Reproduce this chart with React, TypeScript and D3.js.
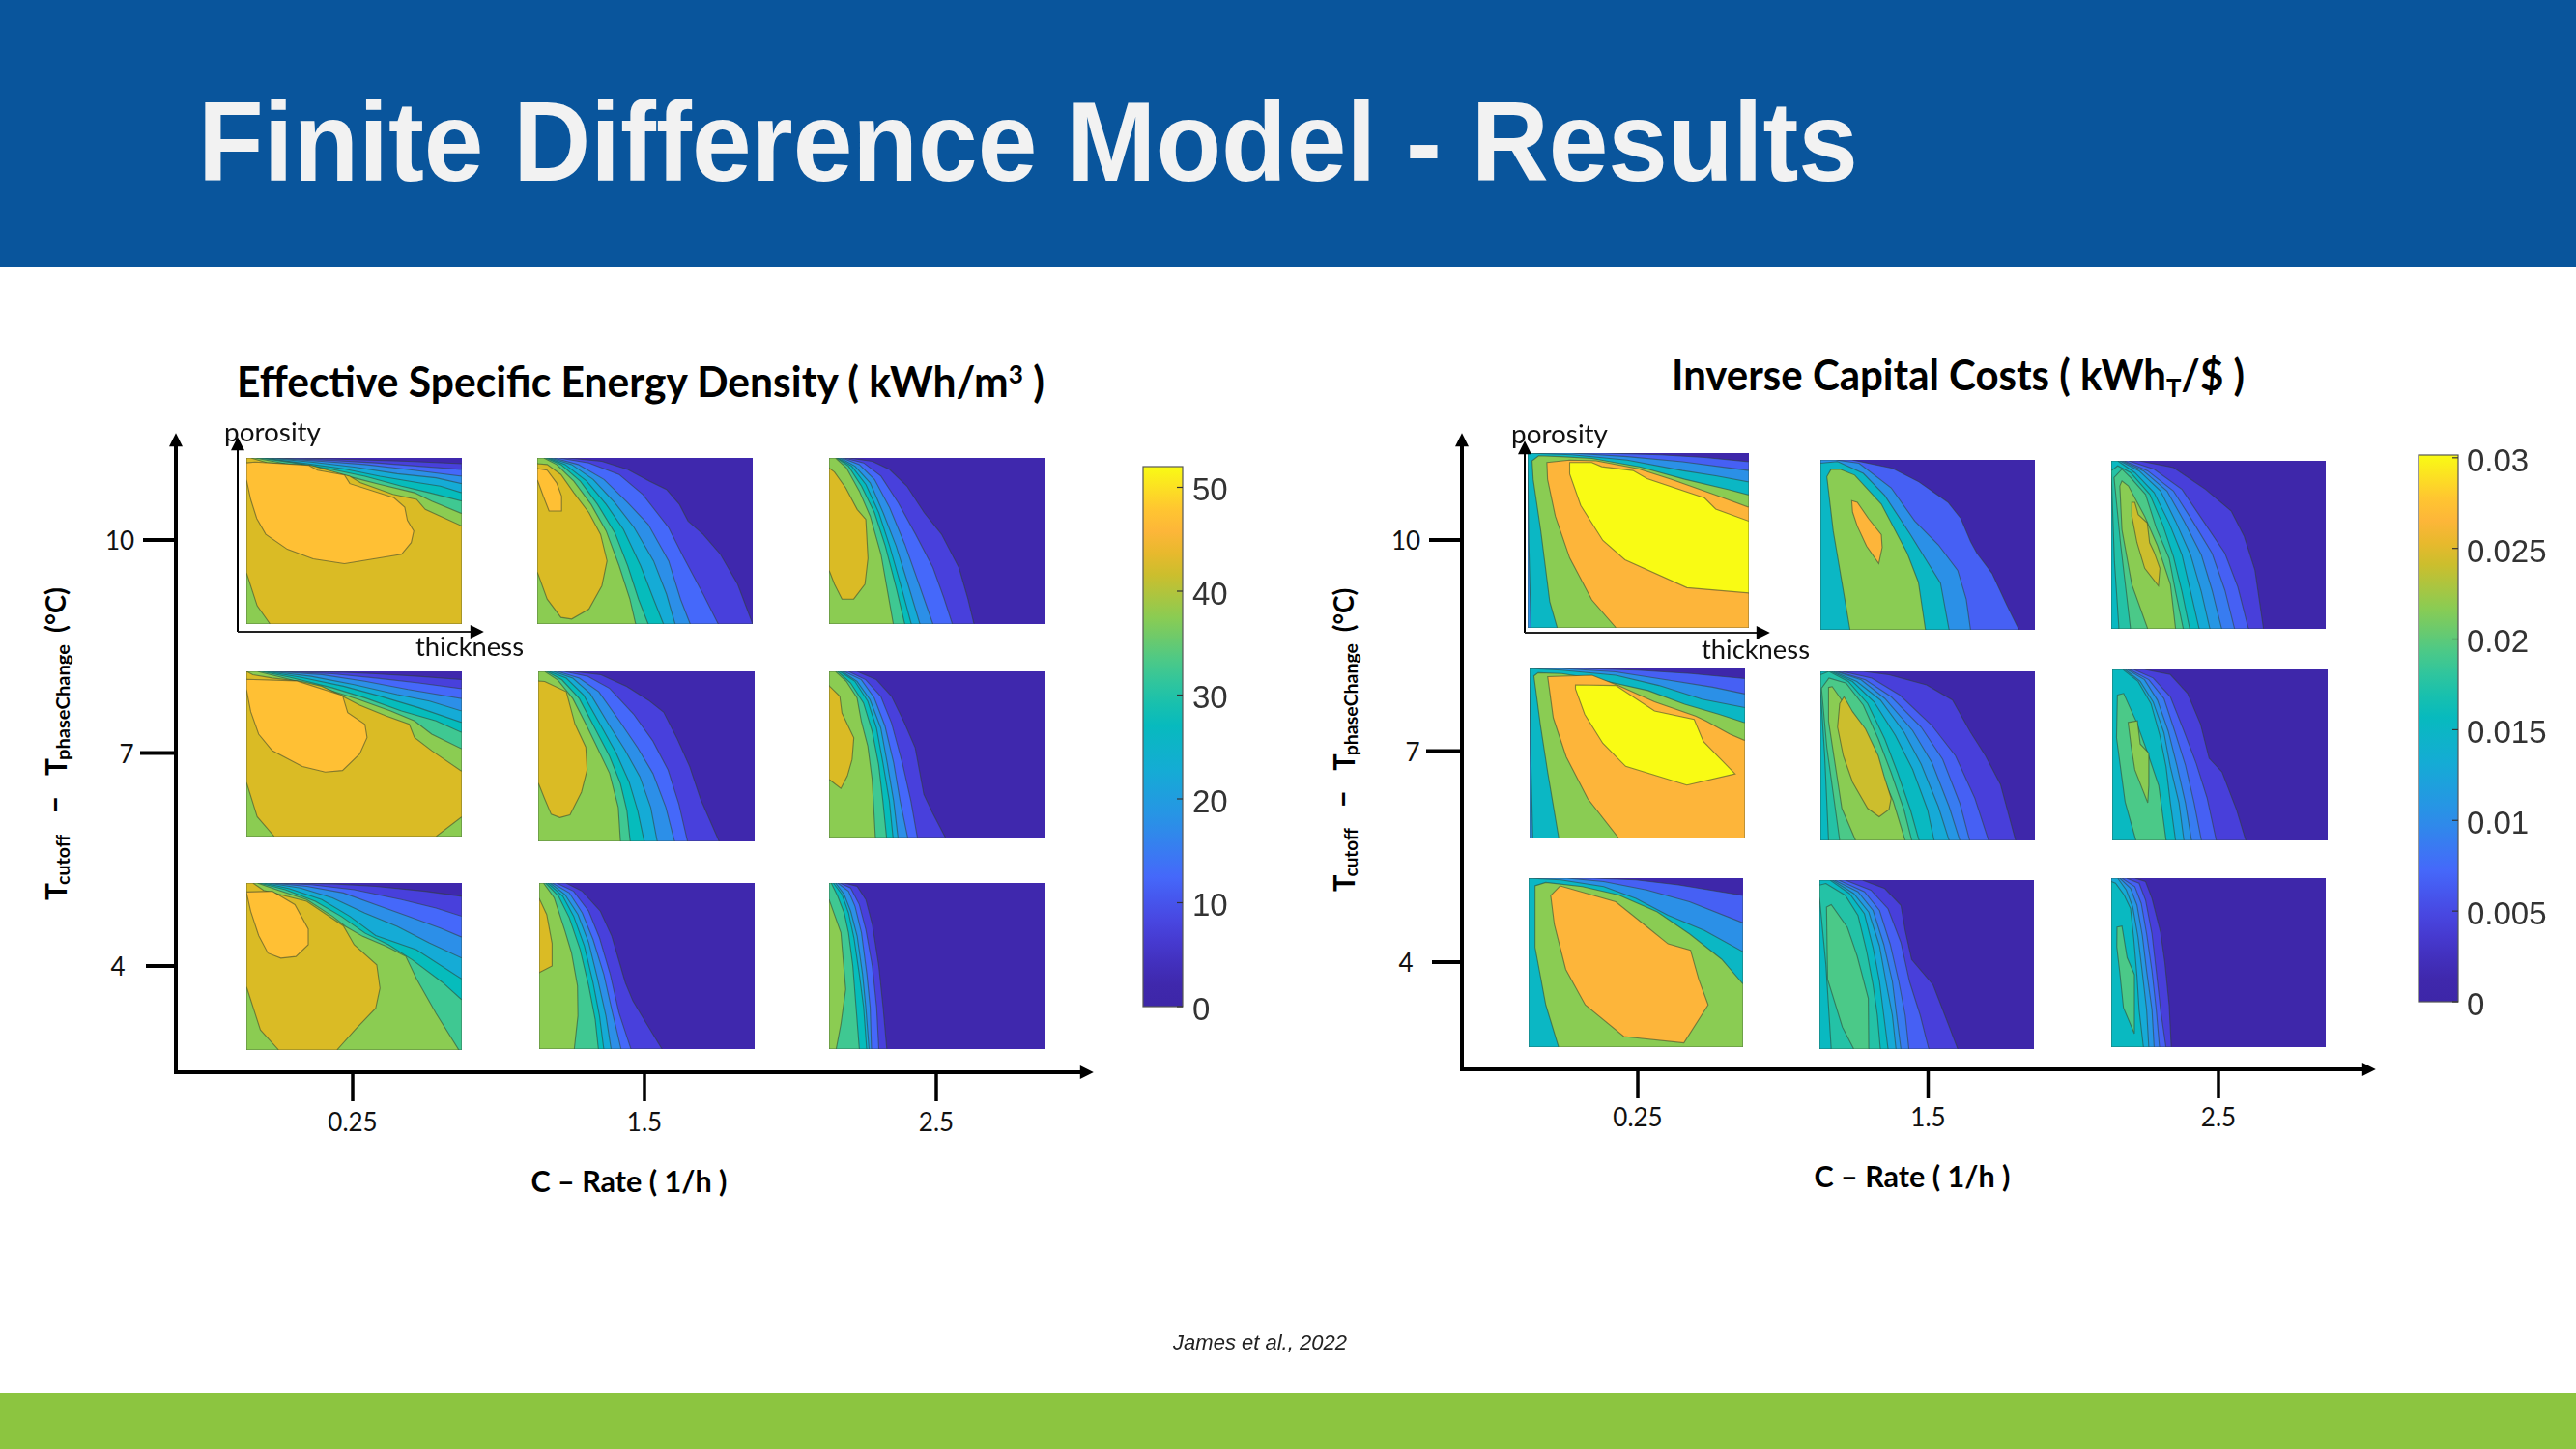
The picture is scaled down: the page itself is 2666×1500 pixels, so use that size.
import React from 'react';
import * as d3 from 'd3';

type P = [number, number];
type Band = [number, P[]];

// ---------- axis values ----------
const cRates = ['0.25', '1.5', '2.5'];
const deltaT = [10, 7, 4];
const energyTicks = [0, 10, 20, 30, 40, 50];
const costTicks = [0, 0.005, 0.01, 0.015, 0.02, 0.025, 0.03];
const energyMax = 52;
const costMax = 0.03;

// ---------- contour levels (fraction of the colour range) ----------
const parulaT = [0, 0.048, 0.144, 0.24, 0.337, 0.433, 0.529, 0.625, 0.721, 0.817, 0.875, 0.913, 1];
const parulaC = ['#3d26a8', '#3f28ad', '#4840dc', '#4568fa', '#2c8fe8', '#15abd6', '#06bcbc', '#3fc892', '#8bcc52', '#dabb25', '#fdb53a', '#ffc034', '#f9fb14'];
const energyLevels = [2.5, 7.5, 12.5, 17.5, 22.5, 27.5, 32.5, 37.5, 42.5, 47.5];
const costCoarse = [0.0006, 0.0066, 0.0102, 0.015, 0.0216, 0.02625, 0.03];
const costFine = [0.0006, 0.0042, 0.0066, 0.0087, 0.0108, 0.0129, 0.0153, 0.0174, 0.0192, 0.0216, 0.024];

// ---------- contour outlines, left chart: [level index, [thickness %, porosity % from top]] ----------
const energy10_025: Band[] = [
  [1, [[25, 0], [50, 1], [75, 2], [100, 3.5]]],
  [2, [[14, 0], [40, 1.5], [60, 3], [80, 5], [100, 7]]],
  [3, [[12, 0], [35, 2], [55, 4], [75, 7], [100, 11]]],
  [4, [[10, 0], [30, 2.5], [50, 5.5], [70, 9.5], [88, 12], [100, 15.5]]],
  [5, [[8, 0], [25, 3], [45, 6.5], [62, 11], [80, 15], [90, 17], [100, 21]]],
  [6, [[6, 0], [22, 3], [40, 7], [55, 11], [72, 17], [85, 21], [100, 26]]],
  [7, [[4, 0], [18, 3.5], [32, 6], [50, 12], [62, 16], [78, 21], [86, 26], [100, 33.5]]],
  [8, [[0, 0], [2, 0], [10, 3], [30, 4.5], [48, 11], [53, 15], [68, 22], [79, 25], [83, 31], [100, 41], [100, 100], [11, 100], [5, 89], [0, 69]]],
  [9, [[0, 3], [4, 2.5], [29, 4.5], [33, 7.4], [45.5, 10.3], [48, 15.5], [68.5, 24], [73.5, 29.7], [74.7, 37.5], [77.7, 44], [76.5, 51], [72, 58], [45.5, 63.7], [31, 60.8], [19, 55], [9, 46], [4.8, 36.5], [2, 25], [0, 13]]],
];
const energy10_15: Band[] = [
  [1, [[14, 0], [30, 2], [42, 7], [52, 14], [60, 19], [66, 28], [70, 38], [77, 46], [85, 58], [93, 76], [100, 100]]],
  [2, [[10, 0], [24, 3], [38, 10], [49, 22], [61, 42], [68, 60], [77, 82], [84, 100]]],
  [3, [[7.5, 0], [19, 4], [31, 13], [42, 27], [51.5, 40], [61, 62], [66.5, 85], [71, 100]]],
  [4, [[6, 0], [16, 4], [26, 13], [36, 27], [45, 42], [54, 62], [60, 82], [64, 100]]],
  [5, [[5, 0], [13, 4], [23, 14], [32, 28], [40, 43], [48, 65], [54, 85], [58.6, 100]]],
  [6, [[4, 0], [11, 4], [20, 14], [28, 28], [36, 45], [42, 65], [47, 85], [51.5, 100]]],
  [7, [[3, 0], [9, 4], [17, 14], [25, 28], [32, 44], [38, 65], [43, 85], [45.7, 100]]],
  [8, [[0, 3.5], [4.6, 4], [11, 10], [17, 21], [24, 33], [29.4, 46], [32.4, 62], [30, 77], [24, 91], [16, 97], [11, 96], [4.6, 85], [0, 68.5]]],
  [9, [[0, 6.4], [4.6, 7.4], [9, 15], [11.3, 23], [11.3, 32], [5.5, 32], [2.8, 23], [0, 13]]],
];
const energy10_25: Band[] = [
  [1, [[9, 0], [20, 2], [28, 7], [36, 17], [44, 33], [52, 46], [60, 66], [64, 84], [67, 100]]],
  [2, [[7, 0], [16, 3], [24, 11], [32, 27], [40, 46], [48, 66], [53, 84], [57, 100]]],
  [3, [[6, 0], [14, 4], [21, 13], [28, 30], [35, 52], [41, 74], [48, 100]]],
  [4, [[5, 0], [12, 5], [19, 15], [25, 33], [31, 53], [36, 74], [42, 100]]],
  [5, [[4, 0], [10.5, 5], [17, 16], [23, 33], [28, 53], [33, 76], [38, 100]]],
  [6, [[3.5, 0], [9, 5], [15, 17], [21, 33], [26, 53], [31, 78], [35, 100]]],
  [7, [[3, 0], [8, 6], [14, 20], [19, 35], [24, 58], [27, 80], [29.7, 100]]],
  [8, [[0, 6], [2.5, 8.5], [7.7, 18], [13, 31], [17, 37], [18, 60.5], [16.6, 76], [11.4, 85], [6, 85], [2.5, 76], [0, 67.6]]],
];
const energy7_025: Band[] = [
  [1, [[22, 0], [45, 0.5], [60, 1.5], [80, 3], [100, 5]]],
  [2, [[16, 0], [40, 1.5], [60, 4], [80, 7], [100, 10.5]]],
  [3, [[13, 0], [35, 2], [55, 6], [75, 11], [100, 16.5]]],
  [4, [[11, 0], [30, 3], [50, 8], [70, 14], [85, 18], [100, 24]]],
  [5, [[9, 0], [25, 3.5], [45, 9], [62, 15], [80, 22], [100, 31]]],
  [6, [[7, 0], [20, 3.5], [40, 10], [55, 16], [72, 24], [88, 30], [100, 37]]],
  [7, [[5, 0], [16, 3.5], [35, 10], [52, 17], [67, 24], [78, 30], [86, 38], [100, 47]]],
  [8, [[0, 0], [3, 2], [12, 4], [25, 6], [35, 9], [44, 14.6], [52.6, 20.5], [65, 27], [75.6, 32], [78, 40], [86, 48], [100, 60.5], [100, 88], [88, 100], [13, 100], [5, 88], [0, 67]]],
  [9, [[0, 4.8], [23.4, 5.8], [40, 12.7], [44.6, 14.6], [47, 25], [55, 32], [56, 40], [52.6, 50], [44.6, 60], [36.6, 61], [26, 57.6], [12, 48], [5.7, 38], [2, 24.4], [0, 10.7]]],
];
const energy7_15: Band[] = [
  [1, [[16, 0], [29, 2], [41, 9], [51, 17], [58, 24], [64, 39], [70, 56], [75, 75], [83.6, 100]]],
  [2, [[12, 0], [23, 3], [33, 10], [44, 25], [53, 41], [60, 58], [65, 78], [69, 100]]],
  [3, [[9, 0], [19, 4], [28, 12], [38, 30], [46, 45], [53, 60], [59, 80], [63, 100]]],
  [4, [[7, 0], [16, 4], [24, 13], [32, 30], [40, 46], [47, 62], [52, 80], [55, 100]]],
  [5, [[5, 0], [13, 4], [21, 14], [29, 32], [36, 48], [42, 65], [46, 82], [49, 100]]],
  [6, [[4, 0], [11, 5], [19, 16], [26, 33], [33, 50], [38, 66], [41, 82], [42.5, 100]]],
  [7, [[3, 0], [9, 5], [16, 16], [22, 31], [27, 44], [33, 60], [37, 80], [38, 100]]],
  [8, [[0, 5.7], [3, 6], [13, 12], [17, 31], [22, 44.6], [22.6, 58], [20, 71], [14.7, 84.4], [10, 86], [6, 84], [3, 75], [0, 65.5]]],
];
const energy7_25: Band[] = [
  [1, [[13, 0], [22, 5], [29, 15], [35, 31], [40, 46], [44, 74], [48, 85], [54, 100]]],
  [2, [[9, 0], [17, 5], [24, 15], [29, 31], [34, 55], [38, 78], [41, 100]]],
  [3, [[7, 0], [15, 5], [21, 16], [26, 33], [30, 55], [33, 78], [36.5, 100]]],
  [4, [[6, 0], [13, 6], [19, 17], [24, 34], [27, 55], [30, 78], [32, 100]]],
  [5, [[5, 0], [12, 6], [18, 18], [22, 34], [25, 55], [28, 78], [29.7, 100]]],
  [6, [[4, 0], [10, 7], [16, 19], [20, 36], [23, 56], [25, 78], [26.7, 100]]],
  [7, [[3, 0], [8, 6], [13, 16], [15, 30], [18, 45], [20, 65], [21.5, 100]]],
  [8, [[0, 8.6], [5, 15], [6, 25], [11.5, 40], [10.7, 53], [8.5, 63], [5.5, 70.5], [0, 65]]],
];
const energy4_025: Band[] = [
  [1, [[22, 0], [40, 0.5], [60, 2], [83, 5], [100, 8]]],
  [2, [[14, 0], [30, 1], [50, 4], [72, 10], [88, 15], [100, 20]]],
  [3, [[12, 0], [28, 2], [45, 6], [60, 13], [75, 20], [90, 27], [100, 32.5]]],
  [4, [[10, 0], [25, 3], [40, 9], [55, 18], [70, 26], [85, 36], [100, 45]]],
  [5, [[8, 0], [20, 3.5], [35, 10], [48, 20], [60, 31.5], [79, 40], [100, 57.5]]],
  [6, [[6, 0], [18, 4], [32, 11], [44, 20], [55, 30], [66, 37], [77, 46], [91, 59.5], [100, 70]]],
  [7, [[5, 0], [14, 4], [28, 10], [40, 20], [46, 26], [54, 32], [65, 38], [74, 44], [79, 57.5], [88, 78], [98.6, 100]]],
  [8, [[0, 0], [3, 0], [8, 4.5], [28, 11], [45, 25.7], [50, 37], [60.5, 49], [62, 63], [60, 75], [51, 87], [42, 100], [15, 100], [6.5, 88], [0, 62]]],
  [9, [[0, 5.4], [12, 5], [22.5, 13], [28.7, 27.6], [28.7, 37], [23, 44], [16, 45], [10, 42], [5.7, 31.5], [2, 17], [0, 5.4]]],
];
const energy4_15: Band[] = [
  [1, [[12.4, 0], [20, 5], [28.4, 17], [33.7, 32], [40, 60], [43.5, 71], [50, 85], [57, 100]]],
  [2, [[8, 0], [16, 5], [23, 17], [28, 33], [33, 55], [37, 78], [42.6, 100]]],
  [3, [[6, 0], [14, 6], [20, 18], [25, 34], [30, 55], [34, 78], [38, 100]]],
  [4, [[5, 0], [12, 7], [18, 19], [23, 36], [27, 57], [31, 80], [33.4, 100]]],
  [5, [[4, 0], [11, 8], [16, 20], [21, 38], [25, 60], [28, 80], [30, 100]]],
  [6, [[3, 0], [9, 8], [14, 21], [19, 40], [23, 62], [26, 82], [27.5, 100]]],
  [7, [[2, 0], [7, 9], [12, 29], [15, 42], [17.8, 62], [18, 80], [16.3, 100]]],
  [8, [[0, 9.3], [3.5, 19], [6, 36.4], [6, 50], [0, 54]]],
];
const energy4_25: Band[] = [
  [1, [[7, 0], [13, 2], [17, 10], [20, 25], [23, 50], [25, 75], [26.7, 100]]],
  [2, [[5, 0], [10, 3], [14, 13], [17, 28], [20, 50], [22, 75], [23, 100]]],
  [3, [[4, 0], [9, 5], [12, 14], [15, 30], [17.5, 55], [19, 75], [19.6, 100]]],
  [4, [[3, 0], [7, 7], [10, 17], [13, 32], [15.5, 55], [17, 75], [18.5, 100]]],
  [5, [[2, 0], [6, 7], [9, 18], [11.5, 33], [14, 55], [16, 75], [17.4, 100]]],
  [6, [[1, 0], [4, 8], [7, 18], [9, 30], [11, 50], [12.5, 75], [14, 100]]],
  [7, [[0, 10], [5.5, 30], [7.7, 64], [5.5, 85], [3.3, 100]]],
];

// ---------- contour outlines, right chart ----------
const cost10_025: Band[] = [
  [1, [[35, 0], [60, 1], [80, 2.5], [100, 5]]],
  [2, [[20, 0], [45, 2], [70, 5], [100, 10]]],
  [3, [[0, 0], [20, 1], [45, 4], [70, 10], [85, 13], [100, 16.5], [100, 100], [1.5, 100], [0.5, 50]]],
  [4, [[2, 4.4], [5, 1.5], [15, 2], [29, 3], [51, 8], [71, 15], [91, 21], [100, 24], [100, 100], [13.4, 100], [10, 85], [6, 45], [2.5, 15]]],
  [5, [[8.7, 5.4], [19, 4], [31, 4.4], [50, 9], [65, 15], [85, 24], [100, 31], [100, 100], [40, 100], [29, 84], [19, 60], [12.5, 36], [9, 15]]],
  [6, [[19, 5.4], [29, 5.4], [33.5, 7.8], [47.6, 10], [54, 14.6], [80, 25.7], [85, 32], [100, 39], [100, 80], [72, 77], [44, 61], [34, 50], [24, 30], [19, 12]]],
];
const cost10_15: Band[] = [
  [1, [[14.6, 0], [33.6, 5], [46, 13], [59.5, 25], [65.5, 34.5], [70, 48], [73, 55], [80, 66.7], [87, 85.6], [92.6, 100]]],
  [2, [[7, 0], [18, 2], [33, 16.5], [44, 36], [55, 50], [64, 65], [68, 82], [70, 100]]],
  [3, [[0, 2], [8, 1], [20, 8], [30, 21], [42, 44], [45.7, 51.6], [56, 72.5], [60, 100], [0.5, 100]]],
  [4, [[3, 10], [5, 5.5], [9.5, 5.7], [16, 9], [28.4, 26], [40.5, 55], [45.7, 72], [49, 100], [13.8, 100], [6, 42]]],
  [5, [[14.6, 24], [17.2, 25], [22.4, 34.5], [28.4, 44], [28.8, 51.6], [27.2, 61], [21.5, 50.7], [17.2, 39], [15, 30.7]]],
];
const cost10_25: Band[] = [
  [1, [[13, 0], [29, 4], [44, 17], [56, 30], [62, 45], [67, 65], [71, 100]]],
  [2, [[8, 0], [20, 5], [33, 17], [43, 36], [53, 55], [59, 75], [64, 100]]],
  [3, [[6, 0], [17, 6], [29, 18], [38, 36], [47, 55], [53, 77], [57.5, 100]]],
  [4, [[5, 0], [15, 6], [26, 18], [34, 36], [42, 56], [47, 77], [51.5, 100]]],
  [5, [[4, 0], [13, 6], [23, 18], [30, 36], [37, 56], [42, 78], [46, 100]]],
  [6, [[3, 0], [11, 7], [20, 19], [27, 37], [33, 56], [37, 78], [41, 100]]],
  [7, [[0, 6], [3, 3], [9, 7], [18, 20], [24, 38], [29, 57], [33, 78], [36.6, 100], [3.6, 100], [1.5, 60]]],
  [8, [[1.3, 10], [5, 5], [9, 10], [16, 20], [21, 40], [27, 58], [30, 78], [33.6, 100], [9, 100], [4.4, 50]]],
  [9, [[4, 15], [5, 12], [8, 15], [15.6, 33], [21.6, 50.6], [27.6, 73.6], [30, 100], [17, 100], [9.6, 73.6], [5, 41]]],
  [10, [[9.6, 24.7], [11, 24.7], [12.6, 32], [16.8, 37], [17.9, 48.7], [20, 54.4], [22.7, 64], [22, 74.5], [15.6, 64], [12, 48.7], [9.6, 33]]],
];
const cost7_025: Band[] = [
  [1, [[25, 0], [50, 1], [75, 3], [100, 6]]],
  [2, [[15, 0], [40, 2], [65, 7], [85, 11], [100, 15]]],
  [3, [[0, 0], [15, 1], [40, 4], [60, 10], [80, 18], [100, 23], [100, 100], [1.5, 100], [0.5, 50]]],
  [4, [[2, 4.4], [4, 2.5], [15, 3], [30, 6], [55, 13], [72, 21], [88, 27], [100, 32], [100, 100], [13.6, 100], [8.4, 61], [5, 33]]],
  [5, [[8.4, 4.8], [29, 4], [41, 10], [58, 19.6], [77, 28], [82, 31], [93, 38.6], [100, 42.4], [100, 100], [41.5, 100], [27, 76.6], [17, 52], [11, 29]]],
  [6, [[21.3, 9.7], [40, 10], [58, 25], [76.4, 30], [80.7, 43], [95.4, 62], [73, 68.6], [44.6, 57.6], [34, 44], [25.6, 27], [21.3, 12]]],
];
const cost7_15: Band[] = [
  [1, [[20, 0], [32, 2], [49.5, 8], [61.6, 17], [70, 36], [77, 50], [84, 67], [91, 100]]],
  [2, [[10, 0], [24, 4], [37, 14], [52, 32], [63, 50], [72, 75], [78.4, 100]]],
  [3, [[8, 0], [21, 5], [33, 15], [47, 33], [57, 52], [65, 78], [69.6, 100]]],
  [4, [[7, 0], [19, 5], [30, 16], [43, 35], [52, 54], [60, 80], [65, 100]]],
  [5, [[6, 0], [17, 6], [28, 17], [39, 36], [47, 55], [55, 80], [60, 100]]],
  [6, [[5, 0], [15, 6], [25, 18], [35, 38], [43, 58], [50, 82], [53, 100]]],
  [7, [[0, 2], [4, 0], [13, 6], [22, 19], [30, 40], [36, 60], [42, 82], [46, 100], [3.8, 100], [2, 50], [0, 10]]],
  [8, [[0.5, 10], [4, 4], [12, 7], [20, 20], [27, 40], [33, 60], [39, 82], [42.6, 100], [9, 100], [3, 45]]],
  [9, [[3.8, 9.5], [5.5, 9], [11.6, 20], [20, 37], [27, 56], [34, 77], [39.5, 100], [16.4, 100], [10, 81], [3.8, 29.5]]],
  [10, [[9, 19], [11, 15], [15, 23.8], [21, 34], [27, 50], [29.7, 62], [33, 75], [32, 81.7], [27.4, 86], [22, 81], [15, 65.6], [10.7, 50], [8, 33]]],
];
const cost7_25: Band[] = [
  [1, [[15, 0], [27, 3], [35, 14], [41, 32], [45, 52], [51, 60], [57.7, 82], [62, 100]]],
  [2, [[10, 0], [19, 5], [27, 16], [33, 35], [39, 55], [44, 75], [48.3, 100]]],
  [3, [[8, 0], [17, 6], [24, 17], [29, 36], [34, 56], [38, 78], [41.4, 100]]],
  [4, [[7, 0], [15, 6], [21, 18], [26, 36], [30, 56], [34, 78], [36.8, 100]]],
  [5, [[6, 0], [13, 7], [19, 19], [24, 37], [27, 57], [31, 78], [33.3, 100]]],
  [6, [[5, 0], [12, 7], [18, 20], [22, 38], [25, 57], [27, 78], [29.4, 100]]],
  [8, [[2.4, 15], [5.3, 14], [11, 30], [16.5, 49], [21.6, 68], [25, 100], [11, 100], [6, 77.5], [2, 40]]],
  [9, [[7.4, 31], [11.7, 30], [13, 43.6], [17, 49], [17, 68], [16.5, 78], [14, 70], [10.5, 58.7], [8.8, 45]]],
];
const cost4_025: Band[] = [
  [1, [[30, 0], [50, 1], [70, 4], [100, 10.3]]],
  [2, [[18, 0], [35, 2], [55, 7], [75, 14], [100, 26.5]]],
  [3, [[0, 0], [15, 1], [35, 5], [50, 12], [65, 22], [82, 31], [100, 43.6], [100, 100], [0.8, 100]]],
  [4, [[3, 4.5], [8, 2.5], [25, 5], [42, 10], [60, 20], [75, 33], [90, 48], [100, 62.7], [100, 100], [14, 100], [8, 75], [3, 41]]],
  [5, [[10.3, 10.3], [14.7, 4.6], [40.6, 14], [54.8, 28.4], [65, 38.9], [75.5, 42.7], [79.3, 59.8], [83.7, 75], [72.4, 97.5], [44.4, 93.7], [26.4, 75], [17.3, 54], [12, 27.4]]],
];
const cost4_15: Band[] = [
  [1, [[20, 0], [30.5, 5], [38, 15], [40, 30], [43, 47], [53, 62], [60, 85], [64.5, 100]]],
  [2, [[12, 0], [24, 6], [32, 17], [38, 37], [42, 60], [47, 80], [51, 100]]],
  [3, [[9, 0], [21, 7], [28, 18], [33, 38], [37, 60], [40, 80], [41.7, 100]]],
  [4, [[7, 0], [18, 7], [25, 18], [30, 38], [34, 60], [36, 80], [38, 100]]],
  [5, [[6, 0], [16, 8], [23, 19], [28, 39], [31, 60], [34, 80], [35.7, 100]]],
  [6, [[5, 0], [14, 8], [21, 20], [25, 40], [28, 60], [30, 80], [32, 100]]],
  [7, [[0, 3], [3, 2], [12, 9], [18, 21], [22, 42], [25, 62], [27, 80], [28.4, 100], [5.5, 100], [3, 50], [0, 10]]],
  [8, [[3.3, 16], [5.5, 14.6], [13, 28], [17.6, 45], [22.8, 70], [23, 100], [16, 100], [10.7, 87], [3.8, 58.6]]],
];
const cost4_25: Band[] = [
  [1, [[11, 0], [16, 2], [19, 12], [23, 32], [25, 50], [27, 75], [28, 100]]],
  [2, [[7, 0], [13, 3], [16, 13], [19, 33], [21, 55], [23, 78], [25.5, 100]]],
  [3, [[5, 0], [11, 5], [14, 15], [16.5, 33], [19, 55], [21, 78], [22.5, 100]]],
  [4, [[4, 0], [9, 6], [12, 16], [14.5, 34], [16.5, 55], [19, 78], [20, 100]]],
  [5, [[3, 0], [7, 7], [10, 17], [12.5, 35], [14.5, 56], [16.5, 78], [17.5, 100]]],
  [6, [[0, 2], [2, 3], [6, 10], [9, 18], [10.5, 36], [12, 58], [13, 78], [15, 100]]],
  [8, [[2.7, 29], [5, 28.4], [7.4, 47], [10.8, 57], [10.8, 78.6], [10.8, 92], [5.7, 76.7], [4, 56], [2.6, 40.7]]],
];

const energyGrid: Band[][][] = [
  [energy10_025, energy10_15, energy10_25],
  [energy7_025, energy7_15, energy7_25],
  [energy4_025, energy4_15, energy4_25],
];
const costGrid: Band[][][] = [
  [cost10_025, cost10_15, cost10_25],
  [cost7_025, cost7_15, cost7_25],
  [cost4_025, cost4_15, cost4_25],
];
const costLevelSets: number[][][] = [
  [costCoarse, costCoarse, costFine],
  [costCoarse, costFine, costFine],
  [costCoarse, costFine, costFine],
];

// ---------- layout: panel rectangles [x0, x1, y0, y1] ----------
const energyRects = [
  [[255, 478, 474, 646], [556, 779, 474, 646], [858, 1082, 474, 646]],
  [[255, 478, 695, 866], [557, 781, 695, 871], [858, 1081, 695, 867]],
  [[255, 478, 914, 1087], [558, 781, 914, 1086], [858, 1082, 914, 1086]],
];
const costRects = [
  [[1581, 1810, 469, 650], [1884, 2106, 476, 652], [2185, 2407, 477, 651]],
  [[1583, 1806, 692, 868], [1884, 2106, 695, 870], [2186, 2409, 693, 870]],
  [[1582, 1804, 909, 1084], [1883, 2105, 911, 1086], [2185, 2407, 909, 1084]],
];

const colorAt = d3.scaleLinear<string>().domain(parulaT).range(parulaC).interpolate(d3.interpolateRgb);
const calibri = 'Lato, "Open Sans", sans-serif';
const arial = '"Liberation Sans", Arial, sans-serif';

function closeToCorner(pts: P[]): P[] {
  const f = pts[0];
  const l = pts[pts.length - 1];
  const out = pts.slice();
  if (l[0] === 100) {
    out.push([100, 100], [0, 100]);
    if (f[1] === 0) out.push([0, 0]);
  } else if (l[1] === 100) {
    out.push([0, 100]);
    if (f[1] === 0) out.push([0, 0]);
  }
  return out;
}

function Panel({ id, rect, bands, levels, max }: { id: string; rect: number[]; bands: Band[]; levels: number[]; max: number }) {
  const [x0, x1, y0, y1] = rect;
  const sx = d3.scaleLinear().domain([0, 100]).range([x0, x1]);
  const sy = d3.scaleLinear().domain([0, 100]).range([y0, y1]);
  const line = d3.line<P>().x((d) => sx(d[0])).y((d) => sy(d[1])).curve(d3.curveLinearClosed);
  return (
    <g clipPath={`url(#${id})`}>
      <clipPath id={id}><rect x={x0} y={y0} width={x1 - x0} height={y1 - y0} /></clipPath>
      <rect x={x0} y={y0} width={x1 - x0} height={y1 - y0} fill={colorAt(levels[0] / max)} />
      {bands.map(([lvl, pts], i) => (
        <path key={i} d={line(closeToCorner(pts)) || ''} fill={colorAt(levels[lvl] / max)} stroke="#2f4030" strokeOpacity={0.55} strokeWidth={1.1} />
      ))}
    </g>
  );
}

function Arrow({ x, y, dir }: { x: number; y: number; dir: 'up' | 'right' }) {
  const s = 7;
  const p = dir === 'up'
    ? `${x},${y - s * 1.4} ${x - s},${y + s * 0.6} ${x + s},${y + s * 0.6}`
    : `${x + s * 1.4},${y} ${x - s * 0.6},${y - s} ${x - s * 0.6},${y + s}`;
  return <polygon points={p} fill="#000" />;
}

function YLabel({ x, y, k }: { x: number; y: number; k: number }) {
  const t = { fontFamily: calibri, fontWeight: 700, fill: '#000' } as const;
  return (
    <g transform={`translate(${x},${y}) rotate(-90) scale(${k},1)`}>
      <text x={0} y={11} fontSize={30} {...t}>T</text>
      <text x={16} y={14} fontSize={19} textLength={52} lengthAdjust="spacingAndGlyphs" {...t}>cutoff</text>
      <text x={89} y={10} fontSize={34} {...t}>–</text>
      <text x={129} y={11} fontSize={30} {...t}>T</text>
      <text x={145} y={14} fontSize={19} textLength={120} lengthAdjust="spacingAndGlyphs" {...t}>phaseChange</text>
      <text x={277} y={10} fontSize={28} textLength={47} lengthAdjust="spacingAndGlyphs" {...t}>(°C)</text>
    </g>
  );
}

function ChartAxes({ x0, yAxis, xEnd, xRange, tickY, tickLen, tickTextX, xTickTextY, xLabelX, xLabelY, yLabelX, yLabelY, yLabelK }: any) {
  const sx = d3.scalePoint<string>().domain(cRates).range(xRange);
  const sy = d3.scaleLinear().domain([4, 10]).range(tickY);
  return (
    <g>
      <line x1={x0} x2={x0} y1={458} y2={yAxis + 2} stroke="#000" strokeWidth={4} />
      <line x1={x0} x2={xEnd} y1={yAxis} y2={yAxis} stroke="#000" strokeWidth={4} />
      <Arrow x={x0} y={458} dir="up" />
      <Arrow x={xEnd} y={yAxis} dir="right" />
      {deltaT.map((v, i) => (
        <g key={v}>
          <line x1={x0 - tickLen[i]} x2={x0} y1={sy(v)} y2={sy(v)} stroke="#000" strokeWidth={4} />
          <text x={tickTextX[i]} y={sy(v) + 1} dy="0.35em" textAnchor="middle" fontFamily={calibri} fontSize={26} fill="#111">{v}</text>
        </g>
      ))}
      {cRates.map((c) => (
        <g key={c}>
          <line x1={sx(c)} x2={sx(c)} y1={yAxis} y2={yAxis + 30} stroke="#000" strokeWidth={3.5} />
          <text x={sx(c)} y={xTickTextY + 1} dy="0.35em" textAnchor="middle" fontFamily={calibri} fontSize={26} fill="#111">{c}</text>
        </g>
      ))}
      <text x={xLabelX} y={xLabelY + 1} dy="0.35em" textAnchor="middle" fontFamily={calibri} fontWeight={700} fontSize={31} textLength={203} lengthAdjust="spacingAndGlyphs" fill="#000">C – Rate ( 1/h )</text>
      <YLabel x={yLabelX} y={yLabelY} k={yLabelK} />
    </g>
  );
}

function MiniAxes({ x, yTop, yBottom, xEnd, porX, porY, thickX, thickY }: any) {
  return (
    <g>
      <line x1={x} x2={x} y1={yTop} y2={yBottom} stroke="#000" strokeWidth={2} />
      <line x1={x} x2={xEnd} y1={yBottom} y2={yBottom} stroke="#222" strokeWidth={2} />
      <Arrow x={x} y={yTop} dir="up" />
      <Arrow x={xEnd} y={yBottom} dir="right" />
      <text x={porX} y={porY} fontFamily={calibri} fontSize={26} textLength={100} lengthAdjust="spacingAndGlyphs" fill="#111">porosity</text>
      <text x={thickX} y={thickY} fontFamily={calibri} fontSize={26} textLength={112} lengthAdjust="spacingAndGlyphs" fill="#111">thickness</text>
    </g>
  );
}

function ColorBar({ id, x0, x1, y0, y1, max, ticks, labelX, fmt }: any) {
  const sy = d3.scaleLinear().domain([0, max]).range([y1, y0]);
  const stops = d3.range(0, 1.0001, 0.04);
  return (
    <g>
      <defs>
        <linearGradient id={id} x1="0" x2="0" y1="1" y2="0">
          {stops.map((t: number) => <stop key={t} offset={t} stopColor={colorAt(t)} />)}
        </linearGradient>
      </defs>
      <rect x={x0} y={y0} width={x1 - x0} height={y1 - y0} fill={`url(#${id})`} stroke="#555" strokeWidth={1.2} />
      {ticks.map((v: number) => (
        <g key={v}>
          <line x1={x1 - 6} x2={x1} y1={sy(v)} y2={sy(v)} stroke="#333" strokeWidth={1.2} />
          <text x={labelX} y={sy(v) + 2} dy="0.36em" fontFamily={arial} fontSize={33} fill="#333">{fmt(v)}</text>
        </g>
      ))}
    </g>
  );
}

export default function App() {
  return (
    <svg width={2666} height={1500} style={{ position: 'absolute', left: 0, top: 0, display: 'block', background: '#fff' }}>
      <rect x={0} y={0} width={2666} height={276} fill="#09559c" />
      <rect x={0} y={1442} width={2666} height={58} fill="#8cc540" />
      <text x={205} y={187} fontFamily={arial} fontWeight={700} fontSize={116} textLength={1718} lengthAdjust="spacingAndGlyphs" fill="#f2f2f2">Finite Difference Model - Results</text>

      <text x={245} y={411} fontFamily={calibri} fontWeight={700} fontSize={44} textLength={836} lengthAdjust="spacingAndGlyphs" fill="#000">Effective Specific Energy Density ( kWh/m<tspan dy={-14} fontSize={27}>3</tspan><tspan dy={14}> )</tspan></text>
      <text x={1730} y={404} fontFamily={calibri} fontWeight={700} fontSize={44} textLength={593} lengthAdjust="spacingAndGlyphs" fill="#000">Inverse Capital Costs ( kWh<tspan dy={7} fontSize={27}>T</tspan><tspan dy={-7}>/$ )</tspan></text>

      <ChartAxes x0={182} yAxis={1110} xEnd={1122} xRange={[365, 969]} tickY={[1000, 559]} tickLen={[34, 37, 31]} tickTextX={[124, 131, 122]} xTickTextY={1161} xLabelX={651} xLabelY={1222} yLabelX={58} yLabelY={932} yLabelK={1} />
      <ChartAxes x0={1513} yAxis={1107} xEnd={2449} xRange={[1695, 2296]} tickY={[996, 559]} tickLen={[34, 37, 31]} tickTextX={[1455, 1462, 1455]} xTickTextY={1156} xLabelX={1979} xLabelY={1217} yLabelX={1391} yLabelY={923} yLabelK={0.97} />

      <g style={{ filter: 'blur(0.5px)' }}>
        {energyGrid.map((row, r) => row.map((bands, c) => (
          <Panel key={`e${r}${c}`} id={`e${r}${c}`} rect={energyRects[r][c]} bands={bands} levels={energyLevels} max={energyMax} />
        )))}
        {costGrid.map((row, r) => row.map((bands, c) => (
          <Panel key={`c${r}${c}`} id={`c${r}${c}`} rect={costRects[r][c]} bands={bands} levels={costLevelSets[r][c]} max={costMax} />
        )))}
      </g>

      <MiniAxes x={246} yTop={462} yBottom={654} xEnd={491} porX={232} porY={457} thickX={430} thickY={679} />
      <MiniAxes x={1578} yTop={466} yBottom={655} xEnd={1822} porX={1564} porY={459} thickX={1761} thickY={682} />

      <ColorBar id="gradE" x0={1183} x1={1224} y0={483} y1={1042} max={energyMax} ticks={energyTicks} labelX={1234} fmt={(v: number) => String(v)} />
      <ColorBar id="gradC" x0={2503} x1={2544} y0={471} y1={1037} max={costMax * 1.005} ticks={costTicks} labelX={2553} fmt={(v: number) => String(v)} />

      <text x={1304} y={1397} textAnchor="middle" fontFamily={arial} fontStyle="italic" fontSize={22} fill="#222">James et al., 2022</text>
    </svg>
  );
}
